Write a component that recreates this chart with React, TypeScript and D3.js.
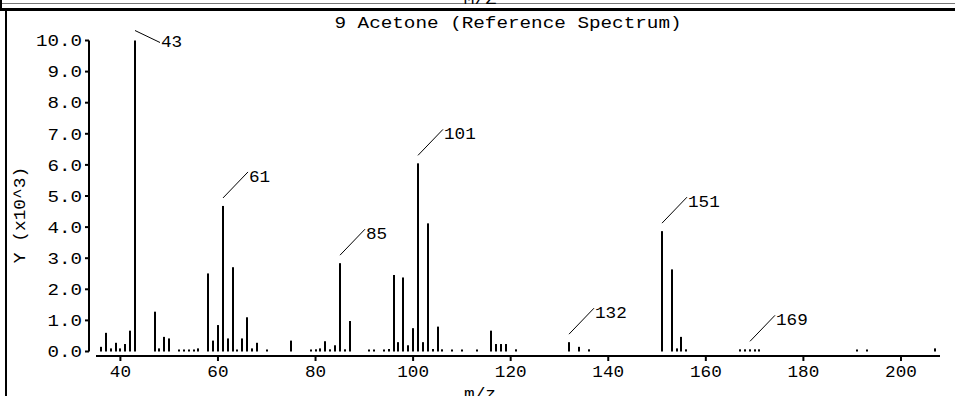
import React, { useRef, useEffect } from 'react';
import * as d3 from 'd3';

const TITLE = '9 Acetone (Reference Spectrum)';
const FONT = '"Liberation Mono", "DejaVu Sans Mono", monospace';

// m/z of each line, and its abundance in thousands
const mzValues = [
  36, 37, 38, 39, 40, 41, 42, 43, 47, 48, 49, 50, 52, 53, 54, 55, 56,
  58, 59, 60, 61, 62, 63, 64, 65, 66, 67, 68, 70, 75, 79, 80, 81, 82,
  83, 84, 85, 86, 87, 91, 92, 94, 95, 96, 97, 98, 99, 100, 101, 102,
  103, 104, 105, 106, 108, 110, 113, 116, 117, 118, 119, 121, 132, 134,
  136, 151, 153, 154, 155, 156, 167, 168, 169, 170, 171, 191, 193, 207,
];
const abundance = [
  0.15, 0.6, 0.1, 0.28, 0.1, 0.24, 0.67, 10.0, 1.28, 0.1, 0.47, 0.42, 0.06, 0.06, 0.06, 0.06, 0.1,
  2.51, 0.35, 0.85, 4.68, 0.42, 2.71, 0.06, 0.42, 1.1, 0.1, 0.28, 0.06, 0.35, 0.06, 0.07, 0.1, 0.33,
  0.07, 0.2, 2.84, 0.07, 0.98, 0.06, 0.06, 0.06, 0.08, 2.46, 0.3, 2.38, 0.2, 0.75, 6.05, 0.3,
  4.12, 0.08, 0.8, 0.07, 0.06, 0.06, 0.06, 0.67, 0.24, 0.24, 0.24, 0.07, 0.3, 0.15,
  0.07, 3.87, 2.64, 0.1, 0.47, 0.07, 0.07, 0.07, 0.07, 0.07, 0.07, 0.06, 0.06, 0.1,
];
const labelledPeaks = [43, 61, 85, 101, 132, 151, 169];
const yTicks = [0, 1, 2, 3, 4, 5, 6, 7, 8, 9, 10];
const xTicks = [40, 60, 80, 100, 120, 140, 160, 180, 200];

const W = 955;
const H = 396;

// stretch a text to the wide look of the original bitmap font
const stretch = (sel, perChar) =>
  sel.each(function () {
    const t = d3.select(this);
    const n = (t.text() || '').length;
    t.attr('textLength', n * perChar).attr('lengthAdjust', 'spacingAndGlyphs');
  });

const Spectrum = () => {
  const svgRef = useRef(null);

  useEffect(() => {
    const svg = d3.select(svgRef.current);
    svg.selectAll('*').remove();

    const x = d3.scaleLinear().domain([35, 208]).range([96, 940]);
    const y = d3.scaleLinear().domain([0, 10]).range([351.5, 40.5]);
    const base = y(0);

    // window frame
    svg.append('line').attr('x1', 0).attr('x2', W).attr('y1', 3.5).attr('y2', 3.5)
      .attr('stroke', '#777').attr('stroke-width', 1);
    svg.append('line').attr('x1', 1).attr('x2', 1).attr('y1', 0).attr('y2', 10)
      .attr('stroke', '#000').attr('stroke-width', 2);
    svg.append('line').attr('x1', 0).attr('x2', W).attr('y1', 9.5).attr('y2', 9.5)
      .attr('stroke', '#000').attr('stroke-width', 3);
    svg.append('line').attr('x1', 6).attr('x2', 6).attr('y1', 9).attr('y2', H)
      .attr('stroke', '#000').attr('stroke-width', 2);

    svg.append('text').attr('x', 480).attr('y', 4).attr('text-anchor', 'middle')
      .style('font-family', FONT).style('font-size', '16px').text('M/Z')
      .call(stretch, 11);

    // title
    svg.append('text').attr('x', 508).attr('y', 28).attr('text-anchor', 'middle')
      .style('font-family', FONT).style('font-size', '16px').text(TITLE)
      .call(stretch, 11.57);

    // y axis
    const yAxis = d3.axisLeft(y).tickValues(yTicks).tickFormat(d => d3.format('.1f')(d))
      .tickSize(4).tickSizeOuter(0).tickPadding(3).offset(0);
    const gy = svg.append('g').attr('transform', 'translate(89,0)').call(yAxis);
    gy.select('.domain').attr('stroke', '#000').attr('stroke-width', 2);
    gy.selectAll('.tick line').attr('stroke', '#000').attr('stroke-width', 2);
    gy.selectAll('.tick text').attr('fill', '#000').attr('dy', '0.36em')
      .style('font-family', FONT).style('font-size', '16px').call(stretch, 11.5);

    // x axis
    const xAxis = d3.axisBottom(x).tickValues(xTicks).tickSize(5).tickSizeOuter(0).offset(0);
    const gx = svg.append('g').attr('transform', 'translate(0,356)').call(xAxis);
    gx.select('.domain').attr('stroke', '#000').attr('stroke-width', 2);
    gx.selectAll('.tick line').attr('stroke', '#000').attr('stroke-width', 2);
    gx.selectAll('.tick text').attr('fill', '#000').attr('y', 21).attr('dy', null)
      .style('font-family', FONT).style('font-size', '16px').call(stretch, 10.6);

    // axis titles
    svg.append('text').attr('transform', 'translate(25,215) rotate(-90)')
      .attr('text-anchor', 'middle')
      .style('font-family', FONT).style('font-size', '16px').text('Y (x10^3)')
      .call(stretch, 10.7);
    svg.append('text').attr('x', 480).attr('y', 399).attr('text-anchor', 'middle')
      .style('font-family', FONT).style('font-size', '16px').text('m/z')
      .call(stretch, 10.7);

    // spectrum lines
    const peaks = mzValues.map((m, i) => ({ m, v: abundance[i] }));
    svg.append('g').selectAll('rect').data(peaks).enter().append('rect')
      .attr('x', d => Math.round(x(d.m)) - 1)
      .attr('width', 2)
      .attr('y', d => Math.min(y(d.v), base - 2))
      .attr('height', d => Math.max(base - y(d.v), 2))
      .attr('fill', '#000');

    // peak labels with leader lines
    const labels = peaks.filter(d => labelledPeaks.includes(d.m));
    const lg = svg.append('g');
    labels.forEach(d => {
      const x0 = Math.round(x(d.m));
      const top = y(d.v);
      const down = top - 34 < 30;
      const y1 = down ? top - 10 : top - 8;
      const y2 = down ? top + 2 : top - 34;
      lg.append('line').attr('x1', x0).attr('y1', y1).attr('x2', x0 + 25).attr('y2', y2)
        .attr('stroke', '#000').attr('stroke-width', 1);
      lg.append('text').attr('x', x0 + 26).attr('y', down ? top + 6 : top - 24)
        .style('font-family', FONT).style('font-size', '17px').text(String(d.m))
        .call(stretch, 10.6);
    });
  }, []);

  return (
    <svg ref={svgRef} width={W} height={H}
      style={{ position: 'absolute', left: 0, top: 0, background: '#fff' }} />
  );
};

export default function App() {
  return <Spectrum />;
}
